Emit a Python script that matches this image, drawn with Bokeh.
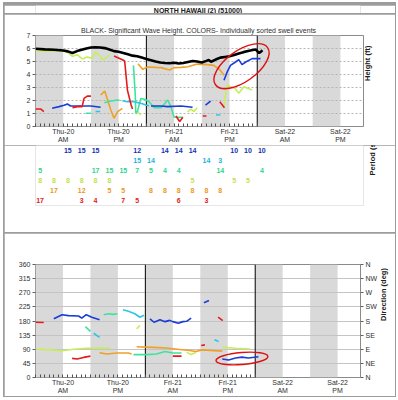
from bokeh.plotting import figure
from bokeh.models import (Range1d, FixedTicker, LinearAxis, ColumnDataSource, BoxAnnotation,
                          Span, Spacer)
from bokeh.layouts import column, row
from bokeh.embed import file_html
from bokeh.resources import INLINE
from bokeh.core.properties import value
import math

# ---------------- texts ----------------
title_text = "NORTH HAWAII (2) (51000)"
subtitle_text = "BLACK- Significant Wave Height.  COLORS- Individually sorted swell events"
height_label = "Height (ft)"
period_label = "Period (s)"
dir_label = "Direction (deg)"

# ---------------- time axis (hours from Thu-20 00:00) ----------------
x_min, x_max = 0, 71
night_start = [0, 12, 24, 36, 48, 60]
night_end = [6, 18, 30, 42, 54, 66]
day_lines = [24, 48]
label_hours = [6, 18, 30, 42, 54, 66]
label_text = ["Thu-20\nAM", "Thu-20\nPM", "Fri-21\nAM", "Fri-21\nPM", "Sat-22\nAM", "Sat-22\nPM"]
data_hours = list(range(0, 49))

height_ticks = [0, 1, 2, 3, 4, 5, 6, 7]
dir_ticks = [0, 45, 90, 135, 180, 225, 270, 315, 360]
dir_names = ["N", "NE", "E", "SE", "S", "SW", "W", "NW", "N"]

# ---------------- significant wave height (black) ----------------
sig_t = [0, 2, 4, 6, 7, 8, 9, 10, 11, 12, 13, 14, 15, 16, 17, 18, 19, 20, 21, 22, 23, 24,
         25, 26, 27, 28, 29, 30, 31, 32, 33, 34, 35, 36, 37, 37.5, 38, 39, 40, 41, 42, 43,
         44, 45, 46, 47, 47.6, 48, 48.4, 48.8, 49.1]
sig_h = [5.98, 5.93, 5.9, 5.85, 5.78, 5.65, 5.8, 5.9, 6.0, 6.08, 6.1, 6.08, 6.03, 5.93, 5.8,
         5.75, 5.65, 5.55, 5.45, 5.4, 5.3, 5.2, 5.1, 5.0, 4.92, 4.88, 4.87, 4.9, 4.85, 4.88,
         4.96, 5.04, 5.0, 4.92, 5.05, 5.12, 4.98, 5.15, 5.3, 5.35, 5.4, 5.5, 5.62, 5.72, 5.8,
         5.88, 5.93, 5.8, 5.65, 5.75, 5.88]

# ---------------- swell heights (segments per colour) ----------------
red_h_t = [[0, 1.1, 1.8], [8, 9.1, 10.1, 10.5, 11.2, 12], [17, 18.8, 19.3, 19.9, 20.7, 21],
           [30.4, 31.2, 31.9], [36.2, 37], [39.9, 40.9]]
red_h_v = [[1.35, 1.35, 1.15], [1.45, 1.53, 1.53, 2.16, 2.34, 2.34], [5.42, 5.14, 5.04, 2.8, 1.65, 1.35],
           [0.81, 0.38, 0.71], [0.81, 0.81], [1.9, 1.45]]

blue_h_t = [[3.6, 5.1, 6.2, 6.9, 7.6, 9.8, 12, 14.1], [25, 27.2, 28.6, 31.5, 34],
            [36.8, 37.9], [40.8, 41.5, 42.2, 43.3, 44, 44.7, 45.5, 46.9, 48.7]]
blue_h_v = [[1.4, 1.53, 1.63, 1.73, 1.58, 1.58, 1.58, 1.48], [1.58, 1.58, 1.53, 1.58, 1.48],
            [1.65, 1.96], [3.56, 4.2, 4.7, 4.96, 5.14, 4.76, 4.96, 5.22, 5.22]]

cyan_h_t = [[13, 14], [18.8, 19.9, 21.4, 22.8, 23.9, 24.6], [39.1, 40]]
cyan_h_v = [[1.15, 1.15], [1.98, 1.9, 1.9, 1.78, 1.65, 1.6], [0.89, 0.89]]

green_h_t = [[10.9, 12], [14.9, 16.3, 17.8, 18.2],
             [21.2, 21.6, 21.7, 22.1, 22.8, 23.6, 24.6, 25.7, 27.2, 28.6, 29.3, 30, 31.9]]
green_h_v = [[1.02, 1.02], [1.83, 1.96, 2.04, 2.0],
             [4.7, 2.42, 1.02, 1.2, 2.16, 2.1, 1.9, 1.45, 1.45, 2.04, 1.53, 0.71, 0.71]]

yellow_h_t = [[0, 1.8, 4, 6.2, 7.2, 8, 9, 10.1, 11.2, 12.3, 13, 13.8, 14.5, 15.6, 16],
              [22.1, 22.8], [32.9, 33.6, 34.3, 35.0],
              [40.8, 41.2, 41.5, 42.2, 43.3, 44, 45.1, 46.9]]
yellow_h_v = [[5.85, 5.8, 5.8, 5.8, 5.65, 5.4, 5.52, 5.2, 5.34, 5.24, 5.73, 5.47, 5.14, 5.34, 5.55],
              [1.15, 0.89], [1.1, 1.35, 1.15, 1.45],
              [1.5, 2.6, 3.2, 3.05, 2.9, 2.55, 3.05, 2.8]]

orange_h_t = [[14.1, 15, 15.6, 16.3, 17, 17.8, 18.8],
              [22.2, 23.2, 24.3, 26, 27.2, 29, 30, 31.5, 33, 35, 37.2, 38.6, 40, 40.8]]
orange_h_v = [[2.42, 2.72, 2.04, 1.27, 0.64, 1.15, 1.4],
              [4.83, 4.4, 4.58, 4.55, 4.53, 4.35, 4.53, 4.55, 4.6, 4.8, 4.76, 4.7, 4.33, 3.94]]

# ---------------- swell directions (deg) ----------------
red_d_t = [[0, 1.8], [8, 9.1, 10.5, 12], [30, 31.9], [36.2, 37], [39.9, 40.9]]
red_d_v = [[176, 175], [61, 59, 64, 68], [68, 68], [102, 104], [192, 181]]

blue_d_t = [[4, 5.8, 7.2, 9.4, 10.1, 11.1, 12.3, 14],
            [25, 25.9, 27.2, 28.3, 29.3, 30, 31.2, 32.2, 33, 34],
            [36.8, 37.9], [40.8, 42.2, 43.7, 45.1, 46.5, 48.7]]
blue_d_v = [[187, 200, 197, 196, 189, 200, 192, 184],
            [187, 176, 184, 178, 182, 178, 173, 178, 179, 189],
            [238, 245], [59, 56, 62, 65, 62, 66]]

green_d_t = [[10.9, 12], [14.9, 15.9, 17, 17.9], [21.4, 24.3, 26.4, 28.3, 30, 31.9]]
green_d_v = [[162, 147], [200, 203, 201, 203], [73, 73, 75, 83, 78, 78]]

cyan_d_t = [[12.7, 14], [19.1, 20.3, 21.7, 22.8, 23.7], [39.1, 40]]
cyan_d_v = [[141, 128], [216, 211, 203, 192, 198], [120, 115]]

yellow_d_t = [[0, 3.3, 5.8, 8.3, 11.2, 14.1, 16.3], [22.1, 22.8], [33, 34, 35.1], [40.8, 43.7, 46.9]]
yellow_d_v = [[91, 88, 85, 90, 93, 94, 93], [155, 166], [80, 73, 80], [96, 93, 91]]

orange_d_t = [[14, 15.6, 17.8, 20.3, 21], [22.1, 25.7, 28.6, 31.5, 33.7, 35, 36.4, 40.8]]
orange_d_v = [[79, 75, 78, 78, 75], [98, 96, 94, 89, 86, 83, 88, 84]]

# ---------------- period table ----------------
period_times = [1, 4, 7, 10, 13, 16, 19, 22, 25, 28, 31, 34, 37, 40, 43, 46, 49]
period_blue = ["", "", "15", "15", "15", "", "", "12", "", "14", "14", "14", "", "", "10", "10", "10"]
period_cyan = ["", "", "", "", "", "", "", "15", "14", "", "", "", "14", "3", "", "", ""]
period_green = ["5", "", "", "", "17", "15", "15", "7", "5", "4", "4", "", "", "14", "", "", "4"]
period_yellow = ["8", "8", "8", "8", "8", "8", "", "", "", "", "", "5", "", "", "5", "5", ""]
period_orange = ["", "17", "", "12", "", "5", "5", "", "8", "8", "8", "8", "8", "8", "", "", ""]
period_red = ["17", "", "", "3", "4", "", "7", "5", "", "", "6", "", "3", "", "", "", ""]

# ---------------- hand-drawn highlight ellipses (centres in data units) ----------------
mark_h_t, mark_h_v = 44.6, 4.64
mark_d_t, mark_d_v = 45.1, 60.5

# ---------------- styles ----------------
FONT = "Liberation Sans"
C_BLUE = "#1a3cd8"
C_CYAN = "#2cc6e8"
C_GREEN = "#3ee49c"
C_YELLOW = "#c6ee5c"
C_ORANGE = "#f0a028"
C_RED = "#e61a1a"
T_BLUE = "#1232b4"
T_CYAN = "#22b2d8"
T_GREEN = "#30d48c"
T_YELLOW = "#c2e050"
T_ORANGE = "#e89a22"
T_RED = "#dc1c1c"
BAND = "#d9d9d9"
FRAME = "#8a8a8a"
BOX = "#9c9c9c"
W = 391
FL, FR = 31, 32
UP = math.pi / 2   # side labels read bottom-to-top (text starts at the axis-bounds midpoint)


def style_xaxis(ax):
    ax.ticker = FixedTicker(ticks=label_hours, minor_ticks=data_hours)
    ax.major_label_overrides = dict(zip(label_hours, label_text))
    ax.major_tick_in = 0
    ax.major_tick_out = 0
    ax.minor_tick_in = 3
    ax.minor_tick_out = 0
    ax.minor_tick_line_color = "#505050"
    ax.axis_line_color = None
    ax.major_label_text_font = FONT
    ax.major_label_text_font_size = "7px"
    ax.major_label_text_color = "#303030"
    ax.major_label_standoff = 1


def style_yaxis(ax, ticks):
    ax.ticker = FixedTicker(ticks=ticks)
    ax.major_tick_in = 0
    ax.major_tick_out = 3
    ax.minor_tick_out = 0
    ax.minor_tick_in = 0
    ax.major_tick_line_color = "#606060"
    ax.axis_line_color = None
    ax.major_label_text_font = FONT
    ax.major_label_text_font_size = "7px"
    ax.major_label_text_color = "#303030"
    ax.major_label_standoff = 2


def label_only_axis(p, text, standoff, bounds):
    ax = LinearAxis(ticker=FixedTicker(ticks=[]), axis_line_color=None, bounds=bounds,
                    major_tick_out=0, major_tick_in=0, minor_tick_out=0, minor_tick_in=0,
                    major_label_standoff=0)
    ax.axis_label = text
    ax.axis_label_standoff = standoff
    ax.axis_label_orientation = UP
    ax.axis_label_text_font = FONT
    ax.axis_label_text_font_size = "7.5px"
    ax.axis_label_text_font_style = "bold"
    ax.axis_label_text_color = "#202020"
    p.add_layout(ax, "right")


def add_bands(p):
    for s, e in zip(night_start, night_end):
        p.add_layout(BoxAnnotation(left=s, right=e, fill_color=BAND, fill_alpha=1.0,
                                   line_color=None, level="image"))
    for d in day_lines:
        p.add_layout(Span(location=d, dimension="height", line_color="black",
                          line_width=1, level="underlay"))


# ---------------- header ----------------
p0 = figure(width=W, height=10, x_range=Range1d(0, 1), y_range=Range1d(0, 1),
            x_axis_type=None, y_axis_type=None, toolbar_location=None, output_backend="svg",
            min_border_left=0, min_border_right=0, min_border_top=0, min_border_bottom=0,
            outline_line_color=None)
p0.title.visible = False
p0.grid.visible = False
p0.text(x=[0.5], y=[0.5], text=[title_text], text_font=value(FONT), text_font_size="7px",
        text_font_style="bold", text_align="center", text_baseline="middle", text_color="#202020")

# ---------------- height chart ----------------
xr = Range1d(x_min, x_max)
p1 = figure(width=W, height=131, x_range=xr,
            y_range=Range1d(height_ticks[0], height_ticks[-1]),
            min_border_left=FL, min_border_right=FR, min_border_top=21, min_border_bottom=18,
            toolbar_location=None, output_backend="svg", title=subtitle_text)
p1.title.text_font = FONT
p1.title.text_font_size = "7px"
p1.title.text_font_style = "normal"
p1.title.text_color = "#303030"
p1.title.align = "center"
p1.title.standoff = 4
p1.outline_line_color = FRAME
add_bands(p1)
style_xaxis(p1.xaxis[0])
style_yaxis(p1.yaxis[0], height_ticks)
p1.xgrid.visible = False
p1.ygrid.ticker = FixedTicker(ticks=height_ticks[1:])
p1.ygrid.grid_line_color = "#b4b4b4"
p1.ygrid.grid_line_dash = "2 2"
label_only_axis(p1, height_label, 4, (0, 4.4))

for xs, ys, c in [(yellow_h_t, yellow_h_v, C_YELLOW), (orange_h_t, orange_h_v, C_ORANGE),
                  (green_h_t, green_h_v, C_GREEN), (cyan_h_t, cyan_h_v, C_CYAN),
                  (blue_h_t, blue_h_v, C_BLUE), (red_h_t, red_h_v, C_RED)]:
    p1.multi_line(xs=xs, ys=ys, line_color=c, line_width=1.6)
p1.line(sig_t, sig_h, line_color="black", line_width=2.6)
p1.ellipse(x=[mark_h_t], y=[mark_h_v], width=[64], height=[31], angle=[0.62],
           width_units="screen", height_units="screen", fill_color=None,
           line_color="#e01010", line_width=1.4)

# ---------------- period table ----------------
p2 = figure(width=W, height=87, x_range=xr, y_range=Range1d(6.5, 0.5),
            min_border_left=FL, min_border_right=FR, min_border_top=0, min_border_bottom=27,
            x_axis_type=None, y_axis_type=None, toolbar_location=None, output_backend="svg",
            outline_line_color=None)
p2.title.visible = False
p2.grid.visible = False
rows = [(period_blue, T_BLUE), (period_cyan, T_CYAN), (period_green, T_GREEN),
        (period_yellow, T_YELLOW), (period_orange, T_ORANGE), (period_red, T_RED)]
pt, pr, pl, pc = [], [], [], []
for i, (labels, col) in enumerate(rows):
    for t, lab in zip(period_times, labels):
        if lab:
            pt.append(t)
            pr.append(i + 1)
            pl.append(lab)
            pc.append(col)
src = ColumnDataSource(dict(t=pt, row=pr, label=pl, color=pc))
p2.text(x="t", y="row", text="label", text_color="color", source=src,
        text_font=value(FONT), text_font_size="7px", text_font_style="bold",
        text_align="center", text_baseline="middle")
label_only_axis(p2, period_label, 9, (3.3, 6.5))

# ---------------- direction chart ----------------
p3 = figure(width=W, height=163, x_range=xr,
            y_range=Range1d(dir_ticks[0], dir_ticks[-1]),
            min_border_left=FL, min_border_right=FR, min_border_top=31, min_border_bottom=18,
            toolbar_location=None, output_backend="svg")
p3.title.visible = False
p3.outline_line_color = FRAME
add_bands(p3)
style_xaxis(p3.xaxis[0])
style_yaxis(p3.yaxis[0], dir_ticks)
p3.xgrid.visible = False
p3.ygrid.ticker = FixedTicker(ticks=dir_ticks[1:-1])
p3.ygrid.grid_line_color = "#c4c4c4"
rax3 = LinearAxis()
style_yaxis(rax3, dir_ticks)
rax3.major_label_overrides = dict(zip(dir_ticks, dir_names))
p3.add_layout(rax3, "right")
label_only_axis(p3, dir_label, 3, (0, 191))

for xs, ys, c in [(yellow_d_t, yellow_d_v, C_YELLOW), (orange_d_t, orange_d_v, C_ORANGE),
                  (green_d_t, green_d_v, C_GREEN), (cyan_d_t, cyan_d_v, C_CYAN),
                  (blue_d_t, blue_d_v, C_BLUE), (red_d_t, red_d_v, C_RED)]:
    p3.multi_line(xs=xs, ys=ys, line_color=c, line_width=1.6)
p3.ellipse(x=[mark_d_t], y=[mark_d_v], width=[52], height=[12], angle=[0.08],
           width_units="screen", height_units="screen", fill_color=None,
           line_color="#e01010", line_width=1.4)

# ---------------- boxed layout: 1px gaps show the grey background as rules ----------------
inner = column(p0, column(p1, p2, spacing=0), p3, spacing=1)
layout = column(Spacer(width=W + 2, height=1),
                row(Spacer(width=1, height=10), inner, Spacer(width=1, height=10), spacing=0),
                Spacer(width=W + 2, height=1), spacing=0,
                styles={"background-color": BOX, "margin-left": "3px", "margin-top": "2px"})

open("out.html", "w").write(file_html(layout, INLINE))
